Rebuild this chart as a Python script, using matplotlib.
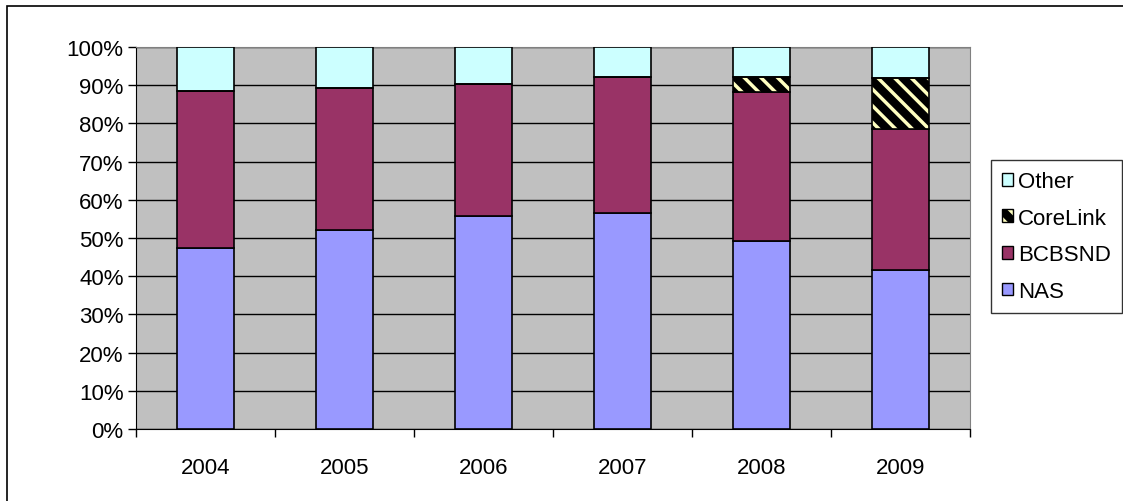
import numpy as np
import matplotlib.pyplot as plt
from matplotlib.patches import Patch, Rectangle
from matplotlib.legend_handler import HandlerTuple

plt.rcParams['font.family'] = ['Liberation Sans', 'DejaVu Sans']
plt.rcParams['hatch.linewidth'] = 2.5

# Data (percent shares)
years    = ['2004', '2005', '2006', '2007', '2008', '2009']
nas      = [47.4, 52.2, 55.7, 56.5, 49.3, 41.5]
bcbsnd   = [41.0, 37.1, 34.6, 35.6, 38.9, 37.0]
corelink = [0.0, 0.0, 0.0, 0.0, 4.0, 13.3]
other    = [11.6, 10.7, 9.7, 7.9, 7.8, 8.2]

c_nas = '#9999FF'
c_bcb = '#993366'
c_oth = '#CCFFFF'
c_stripe = '#FFFFC0'
fs = 16

fig = plt.figure(figsize=(11.23, 5.02), dpi=100)
ax = fig.add_axes([136/1123, 1-430/502, 834/1123, 382/502])
ax.set_facecolor('#C0C0C0')

x = np.arange(len(years))
w = 0.41
nas = np.array(nas); bcbsnd = np.array(bcbsnd)
corelink = np.array(corelink); other = np.array(other)

ax.bar(x, nas, w, color=c_nas, edgecolor='black', linewidth=1.2, zorder=3)
ax.bar(x, bcbsnd, w, bottom=nas, color=c_bcb, edgecolor='black', linewidth=1.2, zorder=3)
b2 = nas + bcbsnd
# striped CoreLink segment: yellow hatch on black, then black outline
ax.bar(x, corelink, w, bottom=b2, color='black', edgecolor=c_stripe, hatch='\\\\',
       linewidth=0, zorder=3)
ax.bar(x, corelink, w, bottom=b2, fill=False, edgecolor='black', linewidth=1.2, zorder=4)
ax.bar(x, other, w, bottom=b2 + corelink, color=c_oth, edgecolor='black',
       linewidth=1.2, zorder=3)

ax.set_xlim(-0.5, len(years) - 0.5)
ax.set_ylim(0, 100)
ax.set_yticks(np.arange(0, 101, 10))
ax.set_yticklabels([f'{v}%' for v in range(0, 101, 10)], fontsize=fs)
ax.yaxis.grid(True, color='black', linewidth=1.0, zorder=1)
ax.set_axisbelow(True)
ax.set_xticks(x)
ax.set_xticklabels(years, fontsize=fs)
ax.set_xticks(np.arange(-0.5, len(years)), minor=True)
ax.tick_params(axis='x', which='major', length=0, pad=20)
ax.tick_params(axis='x', which='minor', length=6, width=1, direction='out')
ax.tick_params(axis='y', length=6, width=1, direction='out', pad=3)
for s in ['top', 'right']:
    ax.spines[s].set_color('#808080')
for s in ['left', 'bottom']:
    ax.spines[s].set_color('black')

cl_handle = (Patch(facecolor='black', edgecolor=c_stripe, hatch='\\\\', linewidth=0),
             Patch(fill=False, edgecolor='black'))
handles = [
    Patch(facecolor=c_oth, edgecolor='black'),
    cl_handle,
    Patch(facecolor=c_bcb, edgecolor='black'),
    Patch(facecolor=c_nas, edgecolor='black'),
]
labels = ['Other', 'CoreLink', 'BCBSND', 'NAS']
leg = fig.legend(handles, labels, loc='upper left', bbox_to_anchor=(991/1123, 1-161/502),
                 handler_map={tuple: HandlerTuple(ndivide=1, pad=0)},
                 fontsize=fs, frameon=True, fancybox=False, edgecolor='black',
                 handlelength=0.5, handleheight=0.5, handletextpad=0.2,
                 labelspacing=0.7, borderpad=0.5, borderaxespad=0)
leg.get_frame().set_linewidth(1.0)

# outer chart border
fig.patches.append(Rectangle((7/1123, -0.1), 1.2, 1 - 7/502 + 0.1, transform=fig.transFigure,
                             fill=False, edgecolor='black', linewidth=1.2))

fig.savefig('out.png', dpi=100)
